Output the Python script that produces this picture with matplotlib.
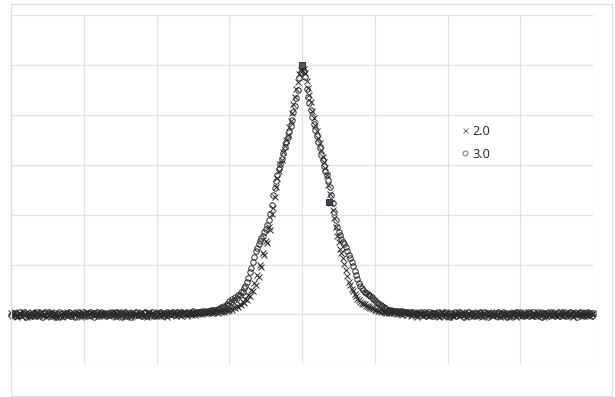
import numpy as np
import matplotlib
matplotlib.use('Agg')
import matplotlib.pyplot as plt
from matplotlib.patches import Rectangle
from matplotlib.lines import Line2D

W, H = 615, 397

labels = ['2.0', '3.0']

# all y values in thousandths, x step 0.02
# peak part: x from -1.20 to 1.20
peak_2 = [8, 12, 6, 14, 9, 15, 11, 17, 13, 19,
          16, 24, 19, 28, 24, 33, 29, 40, 37, 49,
          46, 62, 58, 79, 74, 98, 93, 124, 118, 156,
          150, 196, 188, 246, 238, 296, 288, 352, 340, 404,
          428, 470, 512, 548, 576, 602, 620, 652, 676, 700,
          718, 752, 776, 808, 842, 870, 904, 930, 962, 980,
          998,
          984, 966, 936, 906, 878, 850, 814, 786, 760,
          734, 706, 686, 660, 632, 612, 586, 560, 520, 484,
          446, 418, 388, 350, 316, 290, 262, 246, 228, 204,
          176, 152, 130, 116, 102, 92, 80, 72, 63, 58,
          50, 47, 42, 40, 35, 33, 29, 27, 24, 22,
          19, 18, 14, 15, 11, 12, 8, 10, 7, 9, 5]

peak_3 = [18, 15, 23, 20, 28, 25, 34, 31, 42, 39,
          52, 49, 61, 58, 69, 66, 79, 76, 90, 88,
          106, 112, 130, 146, 170, 186, 210, 232, 254, 266,
          284, 296, 308, 316, 330, 342, 360, 380, 404, 440,
          478, 506, 536, 560, 584, 604, 624, 646, 670, 690,
          710, 732, 754, 780, 812, 836, 866, 900, 946, 972,
          990,
          974, 950, 904, 872, 846, 820, 790, 764, 738,
          716, 690, 666, 640, 618, 596, 576, 558, 540, 510,
          480, 446, 410, 378, 352, 332, 318, 304, 292, 282,
          272, 256, 240, 226, 210, 192, 174, 156, 140, 126,
          112, 104, 97, 90, 85, 80, 77, 73, 70, 63,
          56, 51, 46, 41, 36, 32, 28, 25, 22, 19, 17]

# flat parts: x from -4.00 to -1.22 and from 1.22 to 4.00
left_2 = [4, -6, 9, -3, -11, 5, 1, -8, 10, -2,
          6, -9, 3, -5, 9, -1, -7, 4, 8, -4,
          0, 11, -6, 3, -10, 6, -2, 8, -7, 1,
          5, -9, -12, -3, 2, -10, 6, -4, 9, -6,
          1, 7, -8, 4, -2, 10, -5, 3, -9, 6,
          0, -4, 8, -7, 2, 5, -3, 9, -1, 6,
          -6, 4, 1, 7, -2, 5, 3, -8, 4, 9,
          -3, 7, -10, 2, 8, -5, 0, 10, -7, 3,
          6, -2, -9, 5, 11, -4, 1, -8, 7, -1,
          9, -6, 3, -11, 4, 8, -3, 6, -7, 2,
          -5, 10, 0, -8, 5, -2, 7, -9, 3, 8,
          -4, 1, 9, -6, 4, -1, 8, -5, 2, 10,
          3, -7, 6, 1, -3, 9, -2, 5, 7, 0,
          6, 2, 9, 4, 8, 5, 10, 7, 9, 6]
right_2 = [6, 9, 4, 8, 3, 7, 1, 6, -2, 5,
           9, -3, 1, 6, -7, 3, 8, -2, -9, 4,
           0, 7, -5, 10, -3, 2, -8, 6, 1, -6,
           9, -2, 4, -10, 3, 7, -5, 0, 8, -7,
           -11, -4, 2, -8, 5, -1, 9, -6, 3, 11,
           -4, 6, -9, 2, 7, -3, 10, -5, 1, -7,
           8, -2, 4, -10, 6, 0, -6, 9, -3, 5,
           -8, 3, 10, -4, 1, -9, 6, -1, 7, -5,
           2, -12, -6, 4, -3, 8, -10, 5, -2, 9,
           -7, 1, 6, -4, 10, -1, 3, -8, 7, 0,
           -5, 9, 2, -6, 4, -9, 8, -2, 5, -4,
           11, -3, 0, 7, -8, 3, -1, 9, -6, 2,
           6, -5, 10, -2, 4, -9, 1, 7, -4, 8,
           -1, 5, -7, 3, 9, -3, 6, -8, 2, 4]
left_3 = [-2, 7, -8, 5, 2, -6, 9, -4, 1, 8,
          -10, 3, 6, -3, -8, 7, 2, -5, 10, -1,
          4, -9, 5, 8, -4, 0, 11, -7, 3, -2,
          6, -11, 1, 8, -5, 4, -8, 2, 7, -3,
          9, -6, 0, 5, -9, 3, 8, -4, 1, 10,
          -2, 6, -7, 4, 9, -1, 5, -10, 3, 8,
          -5, 2, 10, -3, 6, -8, 1, 7, -4, 9,
          0, -7, 4, 11, -2, 5, -9, 3, 8, -6,
          7, -1, -10, 6, 2, -4, 9, -3, 5, 1,
          -8, 4, 10, -5, 3, 7, -2, 8, -6, 2,
          5, -3, 9, 0, -7, 6, 2, 10, -4, 7,
          3, 8, -2, 6, 11, 1, 5, 9, 2, 7,
          4, 10, 6, 3, 9, 12, 7, 5, 11, 8,
          10, 14, 9, 13, 11, 15, 12, 16, 13, 17]
right_3 = [16, 14, 15, 12, 14, 11, 13, 9, 12, 10,
           8, 11, 6, 9, 4, 8, 2, 7, -3, 5,
           9, -4, 2, 8, -6, 3, 10, -2, 6, -8,
           4, 1, -5, 9, 2, -7, 5, 11, -3, 0,
           7, -9, 4, -1, 8, -6, 3, 10, -4, 1,
           -10, 6, -2, 9, -5, 3, 7, -8, 0, 5,
           -3, 11, -6, 2, 8, -4, 6, -9, 1, 7,
           -2, 4, -7, 3, 10, -5, 1, 8, -3, 6,
           -9, 2, 7, -1, 5, -6, 11, 0, -4, 9,
           3, -8, 6, -2, 10, -5, 4, -1, 8, -7,
           2, 9, -4, 5, -10, 7, 1, -3, 6, -6,
           10, -2, 4, -8, 3, 8, -5, 0, 9, -3,
           6, -7, 2, 11, -4, 5, -1, 7, -9, 3,
           8, -3, 5, -6, 1, 9, -2, 4, -8, 6]

# highlighted points
sel_x = [0.0, 0.37]
sel_y = [1.0, 0.45]
sel_col = ['#555555', '#34465f']


def series(left, peak, right):
    xl = np.linspace(-4.0, -1.22, len(left))
    xp = np.linspace(-1.2, 1.2, len(peak))
    xr = np.linspace(1.22, 4.0, len(right))
    x = np.concatenate([xl, xp, xr])
    y = np.concatenate([left, peak, right]) / 1000.0
    return x, y


x2, y2 = series(left_2, peak_2, right_2)
x3, y3 = series(left_3, peak_3, right_3)

fig = plt.figure(figsize=(W / 100, H / 100), dpi=100)
fig.patch.set_facecolor('white')

# outer frame
fig.add_artist(Rectangle((11.3 / W, 1 - 396 / H), (611.7 - 11.3) / W, (396 - 3.7) / H,
                         transform=fig.transFigure, fill=False, ec='#dcdcdc', lw=0.9))

ax = fig.add_axes([11.3 / W, 1 - 364.3 / H, (593 - 11.3) / W, (364.3 - 15) / H])
ax.set_xlim(-4, 4)
ax.set_ylim(-0.2, 1.2)
ax.set_xticks(range(-4, 5))
ax.set_yticks(np.arange(-0.2, 1.21, 0.2))
ax.tick_params(length=0, labelbottom=False, labelleft=False)
ax.grid(True, color='#e2e2e2', lw=0.9)
ax.set_axisbelow(True)
for s in ax.spines.values():
    s.set_visible(False)

ax.plot(x2, y2, ls='none', marker='x', ms=4.7, mew=0.7,
        color='#2a2a2a', clip_on=False)
ax.plot(x3, y3, ls='none', marker='o', ms=3.9, mew=0.7, mfc='none',
        mec='#2a2a2a', clip_on=False)

for i in range(len(sel_x)):
    ax.plot(sel_x[i], sel_y[i], ls='none', marker='s', ms=4, mew=0.6,
            mfc=sel_col[i], mec='#222222', clip_on=False)

# legend, drawn by hand
leg_marks = ['x', 'o']
leg_y = [131.5, 155]
for i in range(2):
    fig.add_artist(Line2D([464.5 / W], [1 - (leg_y[i] - 2) / H], transform=fig.transFigure,
                          ls='none', marker=leg_marks[i], ms=3.6, mew=0.6,
                          color='#666666', mfc='none'))
    fig.text(472 / W, 1 - leg_y[i] / H, labels[i], ha='left', va='center',
             fontsize=9.2, family='Open Sans', color='#222222')

fig.savefig('out.png', dpi=100)
